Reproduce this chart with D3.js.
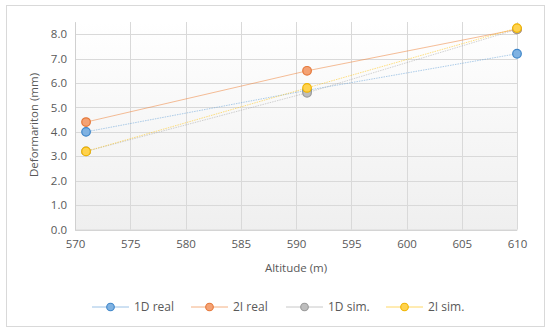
<!DOCTYPE html>
<html><head><meta charset="utf-8">
<script src="https://cdn.jsdelivr.net/npm/d3@7"></script>
<style>body{margin:0;background:#fff}svg{display:block}text{font-family:"Open Sans",sans-serif;fill:#595959}</style>
</head><body>
<svg id="c" width="550" height="335"></svg>
<script>
const altitudes = [571, 591, 610];
const seriesNames = ["1D real", "2I real", "1D sim.", "2I sim."];
const real1D = [4.0, 5.7, 7.2];
const real2I = [4.4, 6.5, 8.2];
const sim1D = [3.2, 5.6, 8.2];
const sim2I = [3.2, 5.8, 8.25];
const xTicks = [570, 575, 580, 585, 590, 595, 600, 605, 610];
const yTicks = [0, 1, 2, 3, 4, 5, 6, 7, 8];

const colors = [
  {line:"#5B9BD5", fill:"#7FB2E2", stroke:"#3F86C9", dash:"1.5,1"},
  {line:"#ED7D31", fill:"#F4A274", stroke:"#E5783A", dash:null},
  {line:"#A5A5A5", fill:"#BDBDBD", stroke:"#999999", dash:"1.5,1"},
  {line:"#FFC000", fill:"#FFD24D", stroke:"#F0B400", dash:"1.5,1"}
];
const allSeries = [real1D, real2I, sim1D, sim2I];

const svg = d3.select("#c");
svg.append("rect").attr("x",6.5).attr("y",5.5).attr("width",538).attr("height",321)
  .attr("fill","#fff").attr("stroke","#d9d9d9");

const x = d3.scaleLinear().domain([570,610]).range([75,517]);
const y = d3.scaleLinear().domain([0,8.5]).range([229.5,22]);

const defs = svg.append("defs");
const g = defs.append("linearGradient").attr("id","bg").attr("x1",0).attr("y1",0).attr("x2",0).attr("y2",1);
g.append("stop").attr("offset","0%").attr("stop-color","#ffffff");
g.append("stop").attr("offset","100%").attr("stop-color","#efefef");
svg.append("rect").attr("x",x(570)).attr("y",y(8.5)).attr("width",x(610)-x(570)).attr("height",y(0)-y(8.5)).attr("fill","url(#bg)");

// gridlines
svg.append("g").selectAll("line").data(yTicks).join("line")
  .attr("x1",x(570)).attr("x2",x(610)).attr("y1",d=>Math.round(y(d))+0.5).attr("y2",d=>Math.round(y(d))+0.5)
  .attr("stroke","#d9d9d9");
svg.append("g").selectAll("line").data(xTicks).join("line")
  .attr("x1",d=>Math.round(x(d))+0.5).attr("x2",d=>Math.round(x(d))+0.5).attr("y1",y(8.5)).attr("y2",y(0))
  .attr("stroke","#d9d9d9");

// axes
const xAxis = d3.axisBottom(x).tickValues(xTicks).tickFormat(d3.format("d")).tickSize(0).tickPadding(10);
const ax = svg.append("g").attr("transform",`translate(0,${y(0)})`).call(xAxis);
ax.select(".domain").attr("stroke","#d0d0d0");
ax.selectAll("text").attr("font-size",11.5).attr("fill","#595959").attr("font-family","'Open Sans',sans-serif");
const yAxis = d3.axisLeft(y).tickValues(yTicks).tickFormat(d3.format(".1f")).tickSize(0).tickPadding(8);
const ay = svg.append("g").attr("transform",`translate(${x(570)},0)`).call(yAxis);
ay.select(".domain").attr("stroke","#d0d0d0");
ay.selectAll("text").attr("font-size",11.5).attr("fill","#595959").attr("font-family","'Open Sans',sans-serif");

svg.append("text").attr("x",296).attr("y",272).attr("text-anchor","middle").attr("font-size",11.5).text("Altitude (m)");
svg.append("text").attr("transform","translate(38,125) rotate(-90)").attr("text-anchor","middle").attr("font-size",11.5).text("Deformariton (mm)");

// lines
const line = d3.line().x((d,i)=>x(altitudes[i])).y(d=>y(d));
allSeries.forEach((s,k)=>{
  svg.append("path").datum(s).attr("d",line).attr("fill","none")
    .attr("stroke",colors[k].line).attr("stroke-width",1).attr("stroke-opacity",0.5)
    .attr("stroke-dasharray",colors[k].dash);
});
allSeries.forEach((s,k)=>{
  svg.append("g").selectAll("circle").data(s).join("circle")
    .attr("cx",(d,i)=>x(altitudes[i])).attr("cy",d=>y(d)).attr("r",4.3)
    .attr("fill",colors[k].fill).attr("stroke",colors[k].stroke).attr("stroke-width",1.2);
});

// legend
const legX = [92, 191, 286, 386];
const lg = svg.append("g");
seriesNames.forEach((n,k)=>{
  const lx = legX[k], ly = 307;
  lg.append("line").attr("x1",lx).attr("x2",lx+37).attr("y1",ly).attr("y2",ly)
    .attr("stroke",colors[k].line).attr("stroke-opacity",0.6);
  lg.append("circle").attr("cx",lx+18.5).attr("cy",ly).attr("r",3.8)
    .attr("fill",colors[k].fill).attr("stroke",colors[k].stroke).attr("stroke-width",1.1);
  lg.append("text").attr("x",lx+42).attr("y",ly+4).attr("font-size",12).text(n);
});
</script>
</body></html>
